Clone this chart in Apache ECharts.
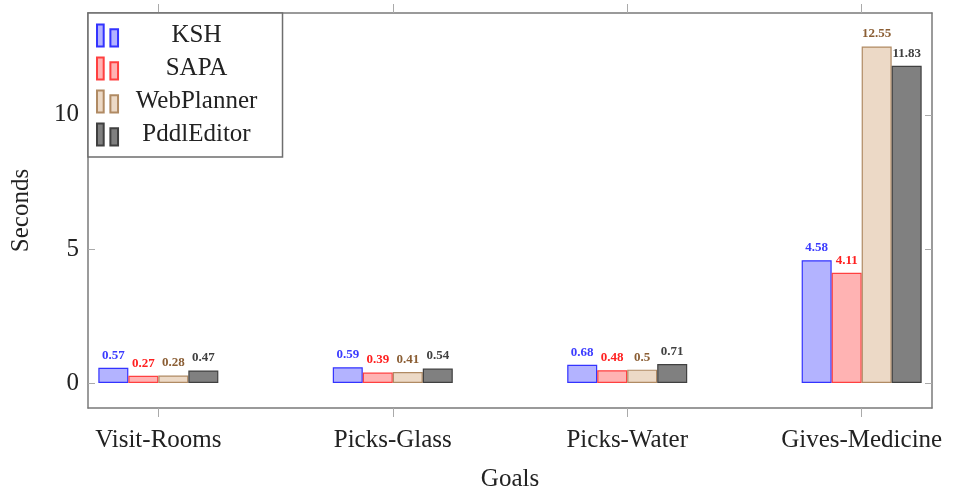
<!DOCTYPE html>
<html>
<head>
<meta charset="utf-8">
<script src="https://cdn.jsdelivr.net/npm/echarts@6/dist/echarts.min.js"></script>
<style>html,body{margin:0;padding:0;background:#fff;}#c{width:961px;height:489px;}</style>
</head>
<body>
<div id="c"></div>
<script>
const categories = ['Visit-Rooms', 'Picks-Glass', 'Picks-Water', 'Gives-Medicine'];
const seriesNames = ['KSH', 'SAPA', 'WebPlanner', 'PddlEditor'];
const ksh = [0.57, 0.59, 0.68, 4.58];
const sapa = [0.27, 0.39, 0.48, 4.11];
const webPlanner = [0.28, 0.41, 0.5, 12.55];
const pddlEditor = [0.47, 0.54, 0.71, 11.83];
const yTicks = [0, 5, 10];

const FONT = '"Liberation Serif", "DejaVu Serif", serif';
const styles = [
  { fill: '#b3b3ff', stroke: '#3333ff', label: '#3b3bff' },
  { fill: '#ffb3b3', stroke: '#ff4040', label: '#ff2020' },
  { fill: '#ecd9c6', stroke: '#b08a63', label: '#8b5e34' },
  { fill: '#808080', stroke: '#404040', label: '#404040' }
];
const values = [ksh, sapa, webPlanner, pddlEditor];
const xIdx = categories.map((c, i) => i);

const chart = echarts.init(document.getElementById('c'), null, { renderer: 'canvas' });
const iconPath = 'path://M0,0 h7 v23 h-7 Z M14,5 h8 v18 h-8 Z';
const lineStyle = { color: '#7a7a7a', width: 1.5 };

chart.setOption({
  animation: false,
  backgroundColor: '#fff',
  grid: { left: 88, right: 29, top: 13, bottom: 81, containLabel: false, outerBoundsMode: 'none' },
  legend: {
    orient: 'vertical',
    left: 88, top: 13,
    backgroundColor: '#fff',
    borderColor: '#6e6e6e', borderWidth: 1.5,
    padding: [10, 13, 10, 8],
    itemGap: 8,
    itemWidth: 22, itemHeight: 22,
    data: seriesNames.map(n => ({ name: n, icon: iconPath })),
    formatter: n => '{a|' + n + '}',
    textStyle: {
      fontFamily: FONT, fontSize: 25, color: '#222',
      rich: { a: { width: 146, align: 'center', fontFamily: FONT, fontSize: 25, color: '#222', lineHeight: 25 } }
    }
  },
  xAxis: [{
    type: 'value', position: 'bottom', min: -0.3, max: 3.3,
    name: 'Goals', nameLocation: 'middle', nameGap: 59,
    nameTextStyle: { fontFamily: FONT, fontSize: 25, color: '#222' },
    axisLine: { show: true, onZero: false, lineStyle: lineStyle },
    axisTick: { show: true, inside: false, length: 9, customValues: xIdx, lineStyle: { color: '#aaa', width: 1 } },
    axisLabel: { show: true, customValues: xIdx, margin: 20, fontFamily: FONT, fontSize: 25, color: '#222',
      formatter: v => categories[Math.round(v)] || '' },
    splitLine: { show: false }
  }, {
    type: 'value', position: 'top', min: -0.3, max: 3.3,
    axisLine: { show: true, onZero: false, lineStyle: lineStyle },
    axisTick: { show: true, inside: false, length: 9, customValues: xIdx, lineStyle: { color: '#aaa', width: 1 } },
    axisLabel: { show: false },
    splitLine: { show: false }
  }],
  yAxis: [{
    type: 'value', position: 'left', min: -0.93, max: 13.8,
    name: 'Seconds', nameLocation: 'middle', nameGap: 54, nameRotate: 90,
    nameTextStyle: { fontFamily: FONT, fontSize: 25, color: '#222' },
    axisLine: { show: true, onZero: false, lineStyle: lineStyle },
    axisTick: { show: true, inside: true, length: 7, customValues: yTicks, lineStyle: { color: '#aaa', width: 1 } },
    axisLabel: { show: true, customValues: yTicks, margin: 9, fontFamily: FONT, fontSize: 25, color: '#222' },
    splitLine: { show: false }
  }, {
    type: 'value', position: 'right', min: -0.93, max: 13.8,
    axisLine: { show: true, onZero: false, lineStyle: lineStyle },
    axisTick: { show: true, inside: true, length: 7, customValues: yTicks, lineStyle: { color: '#aaa', width: 1 } },
    axisLabel: { show: false },
    splitLine: { show: false }
  }],
  series: seriesNames.map((n, si) => ({
    name: n, type: 'bar', xAxisIndex: 0, yAxisIndex: 0,
    barWidth: 30, barGap: '0%',
    data: values[si].map((v, i) => [i, v]),
    itemStyle: { color: styles[si].fill, borderColor: styles[si].stroke, borderWidth: 1.2 },
    label: { show: true, position: 'top', distance: 6, fontFamily: FONT, fontSize: 13, fontWeight: 'bold',
      color: styles[si].label, formatter: p => String(p.value[1]) }
  }))
});
</script>
</body>
</html>
